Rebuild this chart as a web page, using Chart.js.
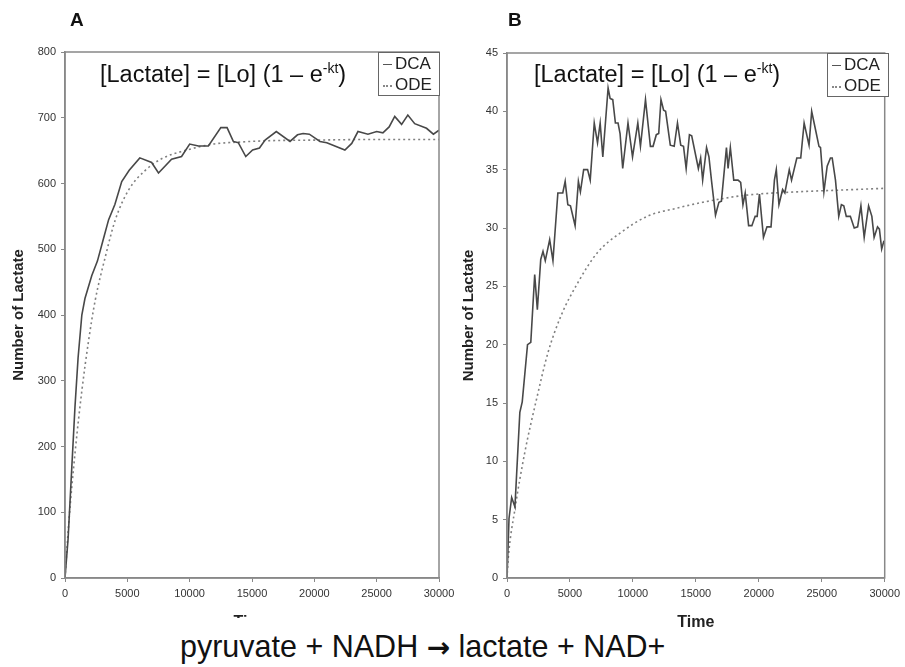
<!DOCTYPE html>
<html>
<head>
<meta charset="utf-8">
<script src="https://cdn.jsdelivr.net/npm/chart.js@4.4.0/dist/chart.umd.min.js"></script>
<style>
  html, body { margin: 0; padding: 0; background: #fff; }
  body { width: 905px; height: 667px; position: relative; overflow: hidden;
         font-family: "Liberation Sans", Arial, sans-serif; }
  .box { position: absolute; top: 0; }
  .panel { position: absolute; font-weight: bold; font-size: 19px; color: #111; }
  .eq { position: absolute; font-size: 23.5px; line-height: 26px; color: #111; white-space: nowrap; }
  .eq sup { font-size: 14px; line-height: 0; vertical-align: 9px; }
  .leg { position: absolute; width: 60px; height: 42px; border: 1px solid #666; background: #fff;
         font-size: 17px; color: #222; }
  .leg .row { height: 21px; line-height: 21px; white-space: nowrap; }
  .sw { display: inline-block; width: 9px; margin: 0 3px 0 4px; vertical-align: middle; }
  .sw.solid { border-top: 1.5px solid #555; }
  .sw.dot { border-top: 2px dotted #888; }
  .rxn { position: absolute; left: 172px; top: 618px; width: 494px; height: 49px; background: #fff;
         font-size: 30.5px; line-height: 30px; color: #111; white-space: nowrap; padding-left: 8px;
         box-sizing: border-box; padding-top: 13px; }
  .rxn .arr { font-family: "DejaVu Sans", sans-serif; font-weight: bold; font-size: 28px; }
</style>
</head>
<body>
<div class="box" style="left:0;width:470px;height:640px"><canvas id="chartA"></canvas></div>
<div class="box" style="left:450px;width:455px;height:640px"><canvas id="chartB"></canvas></div>

<div class="panel" style="left:70px;top:9px">A</div>
<div class="panel" style="left:508px;top:9px">B</div>

<div class="eq" style="left:100px;top:61px">[Lactate] = [Lo] (1 – e<sup>-kt</sup>)</div>
<div class="eq" style="left:534px;top:61px">[Lactate] = [Lo] (1 – e<sup>-kt</sup>)</div>

<div class="leg" style="left:378px;top:52px">
  <div class="row"><span class="sw solid"></span>DCA</div>
  <div class="row"><span class="sw dot"></span>ODE</div>
</div>
<div class="leg" style="left:827px;top:53px">
  <div class="row"><span class="sw solid"></span>DCA</div>
  <div class="row"><span class="sw dot"></span>ODE</div>
</div>

<div class="rxn">pyruvate + NADH <span class="arr">→</span> lactate + NAD+</div>

<script>
// time axis shared by both panels
const timeTicks = [0, 5000, 10000, 15000, 20000, 25000, 30000];

// panel A: [time, number of lactate]
const dcaA = [
  [0,0],[250,60],[550,170],[800,260],[1050,335],[1350,400],[1600,425],[2150,460],[2600,482],
  [3100,517],[3500,545],[4000,568],[4550,603],[5150,620],[6000,639],[6950,632],[7500,616],
  [8550,637],[9350,641],[10000,660],[10700,657],[11500,657],[12500,685],[13000,685],[13500,664],
  [13900,662],[14500,641],[15050,651],[15600,654],[16050,666],[16950,679],[18050,664],[18650,674],
  [19100,676],[19600,675],[20450,664],[21000,662],[22450,651],[23000,661],[23500,679],[24300,675],
  [25000,679],[25500,677],[26000,686],[26450,702],[27000,690],[27500,704],[28050,691],[29000,684],
  [29550,675],[30000,681]
];
const odeA = [
  [0,0],[300,83],[830,195],[1360,286],[1900,362],[2430,423],[3240,489],[4040,545],[5100,590],
  [6440,620],[7780,638],[9600,650],[11900,660],[14000,663],[16200,665],[20000,666],[25000,667],[30000,667]
];
const yTicksA = [0, 100, 200, 300, 400, 500, 600, 700, 800];

// panel B
const dcaB = [
  [0,0],[160,5.1],[370,6.9],[630,6.1],[1020,14.2],[1210,15.1],[1630,20],[1890,20.2],[2200,26],
  [2410,23],[2680,27.3],[2860,28],[3040,27.2],[3390,29],[3650,27.2],[4040,33],[4430,33],[4620,34],
  [4830,32],[5040,31.9],[5410,30.2],[5670,34],[5830,33.1],[6090,35],[6400,35],[6610,34.1],[6930,39],
  [7190,37.3],[7400,39],[7610,36.1],[8030,42],[8190,41.1],[8400,41],[8610,39],[8820,39],[8980,38.1],
  [9190,35.1],[9610,39],[9970,36.1],[10390,39],[10600,37],[11000,41],[11390,37],[11600,37],[11860,38],
  [12050,38.1],[12230,41],[12440,40.1],[12600,40],[12970,37.1],[13280,37],[13540,39],[13800,37.1],
  [14020,37],[14230,35.1],[14490,38],[14670,37.9],[15200,35.1],[15380,36],[15540,34.1],[15850,36.9],
  [16040,36.1],[16250,34],[16560,31.1],[16830,32.2],[17030,32.3],[17430,36.9],[17560,35.1],[17740,36.9],
  [18010,34.1],[18350,34.1],[18560,33.9],[18740,32],[18920,33],[19190,30.2],[19450,30.2],[19710,31],
  [19870,31],[20050,32.9],[20370,29.2],[20650,30.1],[20970,30.1],[21240,34.1],[21390,35],[21600,32],
  [21890,33.3],[22070,33],[22420,35],[22600,34.1],[23020,36],[23330,36],[23600,39],[23990,37.1],
  [24200,40],[24510,38.4],[24780,37],[24900,36.9],[25170,33.1],[25430,35.3],[25690,36],[25830,36],
  [26090,34.1],[26350,31],[26560,32],[26750,31.9],[26950,31],[27270,31],[27580,30],[27850,30.1],
  [28110,31.9],[28370,29.2],[28720,31.9],[28980,31],[29160,29.2],[29430,30.1],[29580,29.9],
  [29760,28.2],[29940,28.9]
];
const odeB = [
  [0,0],[100,1.7],[630,5.9],[1420,10.8],[2340,15.3],[3250,19.3],[4300,22.5],[5620,25.3],[7190,27.9],
  [9030,29.6],[11130,31],[13490,31.7],[15540,32.2],[18870,32.8],[23070,33.1],[26500,33.25],[30000,33.4]
];
const yTicksB = [0, 5, 10, 15, 20, 25, 30, 35, 40, 45];

const toPts = arr => arr.map(p => ({ x: p[0], y: p[1] }));

const frame = {
  id: "frame",
  afterDatasetsDraw(chart) {
    const a = chart.chartArea, ctx = chart.ctx;
    ctx.save();
    ctx.strokeStyle = "#888";
    ctx.lineWidth = 1.5;
    ctx.strokeRect(a.left, a.top, a.right - a.left, a.bottom - a.top);
    ctx.restore();
  }
};

function makeChart(id, dca, ode, yTicks, yMax, yWidth, pad) {
  new Chart(document.getElementById(id), {
    type: "line",
    data: {
      datasets: [
        { label: "DCA", data: toPts(dca), borderColor: "#484848", borderWidth: 1.6,
          pointRadius: 0, tension: 0 },
        { label: "ODE", data: toPts(ode), borderColor: "#808080", borderWidth: 1.6,
          borderDash: [2, 3], pointRadius: 0, cubicInterpolationMode: "monotone" }
      ]
    },
    options: {
      responsive: true,
      maintainAspectRatio: false,
      animation: false,
      layout: { padding: pad },
      plugins: { legend: { display: false }, tooltip: { enabled: false } },
      scales: {
        x: {
          type: "linear", min: 0, max: 30000,
          afterBuildTicks: s => { s.ticks = timeTicks.map(v => ({ value: v })); },
          afterFit: s => { s.height = 62; },
          grid: { drawOnChartArea: false, tickLength: 4, color: "#888" },
          border: { color: "#888", width: 1.5 },
          ticks: { color: "#333", font: { family: "Liberation Sans", size: 11 }, padding: 5,
                   maxRotation: 0, autoSkip: false, callback: v => String(v) },
          title: { display: true, text: "Time", color: "#222",
                   font: { family: "Liberation Sans", size: 16, weight: "bold" },
                   padding: { top: 0, bottom: 8 } }
        },
        y: {
          min: 0, max: yMax,
          afterBuildTicks: s => { s.ticks = yTicks.map(v => ({ value: v })); },
          afterFit: s => { s.width = yWidth; },
          grid: { drawOnChartArea: false, tickLength: 4, color: "#888" },
          border: { color: "#888", width: 1.5 },
          ticks: { color: "#333", font: { family: "Liberation Sans", size: 11 }, padding: 5,
                   callback: v => String(v) },
          title: { display: true, text: "Number of Lactate", color: "#222",
                   font: { family: "Liberation Sans", size: 15, weight: "bold" },
                   padding: { top: 10, bottom: 0 } }
        }
      }
    },
    plugins: [frame]
  });
}

makeChart("chartA", dcaA, odeA, yTicksA, 800, 65, { top: 52, right: 31, left: 0, bottom: 0 });
makeChart("chartB", dcaB, odeB, yTicksB, 45, 57, { top: 53, right: 17, left: 0, bottom: 0 });
</script>
</body>
</html>
